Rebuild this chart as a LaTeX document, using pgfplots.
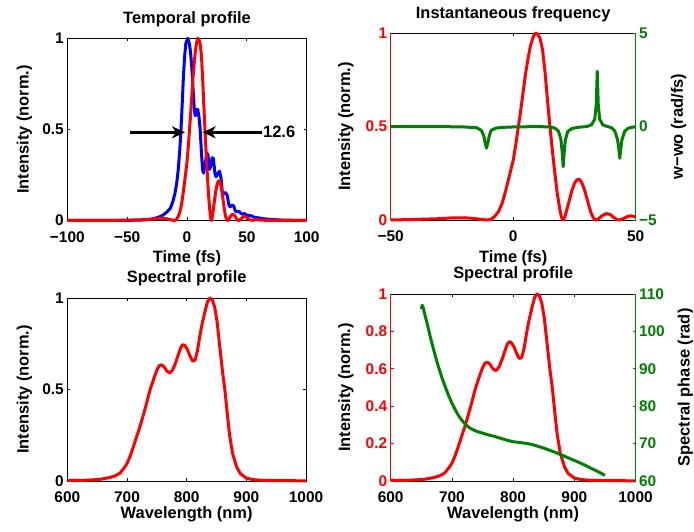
\documentclass[border=0pt]{standalone}
\usepackage{pgfplots}
\pgfplotsset{compat=1.18}
\usepackage{fontspec}
\setmainfont{Liberation Sans}
\usetikzlibrary{arrows.meta}
\definecolor{mgreen}{rgb}{0,0.5,0}
\newcommand\tfont{\fontsize{15.5}{18}\selectfont\bfseries}
\newcommand\lfont{\fontsize{16.5}{19}\selectfont\bfseries}
\pgfplotsset{
 base/.style={
  scale only axis, anchor=south west, clip=false,
  axis line style={line width=0.8bp},
  tick align=inside, major tick length=3bp,
  every tick/.style={line width=0.8bp, black},
  tick label style={font=\tfont},
  every axis title/.style={at={(axis description cs:0.5,1)}, anchor=base, yshift=15bp, font=\lfont},
  xticklabel style={anchor=base, yshift=-22bp, font=\tfont},
  yticklabel style={font=\tfont},
 },
 ylab/.style={every axis y label/.style={at={(axis description cs:#1,0.5)}, anchor=base, rotate=90, font=\lfont}},
 xlab/.style={every axis x label/.style={at={(axis description cs:0.5,0)}, anchor=base, yshift=-#1, font=\lfont}},
 curve/.style={line width=3bp, line join=round},
}
\begin{document}
\begin{tikzpicture}[x=1bp,y=1bp]
\useasboundingbox (0,0) rectangle (694,532);
% ---------------- Top left
\begin{axis}[base, at={(67.3bp,311.5bp)}, width=239.4bp, height=182.2bp,
 xmin=-100, xmax=100, ymin=0, ymax=1,
 xtick={-100,-50,0,50,100}, xticklabels={\textbf{−100},\textbf{−50},\textbf{0},\textbf{50},\textbf{100}},
 ytick={0,0.5,1}, yticklabels={\textbf{0},\textbf{0.5},\textbf{1}},
 title={Temporal profile}, xlabel={Time (fs)}, ylabel={Intensity (norm.)},
 ylab=-0.162, xlab=42.5bp]
\addplot[curve, blue] coordinates {(-100,0) (-50,0.001) (-40,0.002) (-32,0.005) (-27,0.012) (-23,0.02) (-20,0.03) (-17,0.045) (-14,0.066) (-12,0.1) (-10,0.15) (-8.5,0.21) (-7.3,0.28) (-6,0.39) (-5,0.50) (-4,0.64) (-3,0.79) (-2,0.9) (-1,0.97) (0.6,1.0) (2,0.97) (3,0.92) (4,0.84) (5,0.73) (6,0.62) (6.8,0.575) (7.5,0.58) (8.3,0.61) (9,0.61) (10,0.57) (11,0.5) (12,0.38) (13,0.28) (13.8,0.26) (15,0.3) (16.5,0.37) (17.5,0.36) (18.7,0.28) (19.5,0.29) (21,0.345) (22,0.34) (23.5,0.25) (24.3,0.24) (26,0.26) (27.2,0.27) (28.5,0.23) (29.5,0.155) (30.5,0.145) (32,0.153) (33.5,0.14) (35,0.085) (36,0.075) (37.5,0.085) (39,0.08) (40.5,0.05) (42,0.048) (43.5,0.05) (45,0.038) (46.5,0.035) (48,0.038) (50,0.028) (52,0.027) (54,0.025) (56,0.018) (58,0.016) (60,0.014) (63,0.01) (66,0.008) (70,0.006) (75,0.004) (80,0.002) (90,0.001) (100,0)};
\addplot[curve, red] coordinates {(-100,0) (-60,0.001) (-40,0.003) (-30,0.007) (-25,0.011) (-20,0.012) (-16,0.008) (-13,0.003) (-10.5,0.0) (-9,0.004) (-7.5,0.02) (-6,0.045) (-4.5,0.09) (-3,0.16) (-1.5,0.24) (0,0.32) (1,0.40) (2,0.49) (3,0.58) (4,0.68) (5,0.78) (6,0.86) (7,0.93) (8,0.975) (9,1.0) (10,0.995) (11,0.97) (12,0.91) (13,0.79) (13.6,0.70) (14,0.64) (15,0.50) (16,0.37) (17,0.25) (18,0.14) (19,0.06) (19.7,0.015) (20.3,0.0) (21,0.015) (22,0.06) (23,0.11) (24,0.16) (25,0.195) (26,0.215) (27,0.218) (28,0.20) (29,0.165) (30,0.12) (31,0.07) (32,0.03) (33,0.006) (33.8,0.0) (35,0.008) (36.5,0.025) (38,0.034) (39.5,0.03) (41,0.014) (42.3,0.002) (43.5,0.0) (45,0.008) (46.5,0.018) (48,0.022) (49,0.02) (50,0.016) (52,0.006) (54,0.001) (56,0.003) (58,0.006) (60,0.003) (65,0.001) (70,0) (100,0)};
\addplot[line width=3bp, black, -{Stealth[length=13bp, width=12bp, inset=4bp]}] coordinates {(-48,0.484) (-1.7,0.484)};
\addplot[line width=3bp, black, -{Stealth[length=13bp, width=12bp, inset=4bp]}] coordinates {(63,0.484) (13.1,0.484)};
\node[anchor=west, font=\lfont, inner sep=0pt] at (axis cs:63.5,0.484) {12.6};
\end{axis}
% ---------------- Top right
\begin{axis}[base, at={(390.7bp,312bp)}, width=245bp, height=186.8bp,
 axis x line*=box, axis y line*=left, y axis line style={red},
 xmin=-50, xmax=50, ymin=0, ymax=1,
 xtick={-50,0,50}, xticklabels={\textbf{−50},\textbf{0},\textbf{50}},
 ytick={0,0.5,1}, yticklabels={\textbf{0},\textbf{0.5},\textbf{1}}, yticklabel style={text=red},
 every y tick/.append style={red},
 title={Instantaneous frequency}, xlabel={Time (fs)}, ylabel={Intensity (norm.)},
 ylabel style={text=red},
 ylab=-0.166, xlab=42.7bp]
\addplot[curve, red] coordinates {(-50,0) (-40,0.003) (-30,0.007) (-25,0.011) (-20,0.012) (-16,0.008) (-13,0.003) (-10.5,0.0) (-9,0.004) (-7.5,0.02) (-6,0.045) (-4.5,0.09) (-3,0.16) (-1.5,0.24) (0,0.32) (1,0.40) (2,0.49) (3,0.58) (4,0.68) (5,0.78) (6,0.86) (7,0.93) (8,0.975) (9,1.0) (10,0.995) (11,0.97) (12,0.91) (13,0.79) (13.6,0.70) (14,0.64) (15,0.50) (16,0.37) (17,0.25) (18,0.14) (19,0.06) (19.7,0.015) (20.3,0.0) (21,0.015) (22,0.06) (23,0.11) (24,0.16) (25,0.195) (26,0.215) (27,0.218) (28,0.20) (29,0.165) (30,0.12) (31,0.07) (32,0.03) (33,0.006) (33.8,0.0) (35,0.008) (36.5,0.025) (38,0.034) (39.5,0.03) (41,0.014) (42.3,0.002) (43.5,0.0) (45,0.008) (46.5,0.018) (48,0.022) (49,0.02) (50,0.016)};
\end{axis}
\begin{axis}[base, at={(390.7bp,312bp)}, width=245bp, height=186.8bp,
 axis x line=none, axis y line*=right, y axis line style={mgreen},
 xmin=-50, xmax=50, ymin=-5, ymax=5,
 ytick={-5,0,5}, yticklabels={\textbf{−5},\textbf{0},\textbf{5}}, yticklabel style={text=mgreen},
 every y tick/.append style={mgreen},
 ylabel={w−wo (rad/fs)}, ylabel style={text=mgreen}, ylab=1.193]
\addplot[curve, mgreen] coordinates {(-50,0) (-30,0) (-20,-0.02) (-15,-0.06) (-13,-0.2) (-12,-0.5) (-11.5,-0.85) (-10.9,-1.15) (-10.3,-0.85) (-9.8,-0.5) (-9,-0.2) (-7,-0.08) (-4,-0.04) (0,-0.02) (10,0) (15,-0.02) (17,-0.08) (18.5,-0.25) (19.5,-0.7) (20,-1.4) (20.4,-2.15) (20.8,-1.4) (21.3,-0.7) (22.3,-0.25) (24,-0.1) (27,-0.03) (30,0.0) (32,0.1) (33.3,0.4) (33.9,1.2) (34.3,2.95) (34.7,1.2) (35.3,0.4) (36.5,0.1) (38,0.02) (40,-0.05) (41.5,-0.25) (42.6,-0.7) (43.1,-1.2) (43.5,-1.7) (43.9,-1.2) (44.4,-0.7) (45.5,-0.25) (47,-0.08) (50,0)};
\end{axis}
% ---------------- Bottom left
\begin{axis}[base, at={(67.3bp,51bp)}, width=238.7bp, height=183bp,
 xmin=600, xmax=1000, ymin=0, ymax=1,
 xtick={600,700,800,900,1000}, xticklabels={\textbf{600},\textbf{700},\textbf{800},\textbf{900},\textbf{1000}},
 ytick={0,0.5,1}, yticklabels={\textbf{0},\textbf{0.5},\textbf{1}},
 title={Spectral profile}, xlabel={Wavelength (nm)}, ylabel={Intensity (norm.)},
 ylab=-0.1625, xlab=38bp]
\addplot[curve, red] coordinates {(600,0.003) (630,0.004) (655,0.009) (670,0.018) (680,0.028) (688,0.042) (695,0.07) (700,0.095) (705,0.133) (710,0.18) (715,0.23) (722,0.30) (730,0.39) (738,0.49) (745,0.56) (750,0.605) (754,0.63) (758,0.635) (762,0.625) (767,0.60) (772,0.59) (777,0.61) (782,0.65) (787,0.70) (791,0.735) (794,0.745) (797,0.74) (801,0.72) (806,0.68) (810,0.655) (814,0.66) (818,0.71) (822,0.79) (826,0.86) (831,0.93) (835,0.98) (839,1.0) (843,0.99) (847,0.95) (851,0.87) (856,0.72) (860,0.6) (864,0.5) (868,0.37) (872,0.25) (877,0.15) (884,0.075) (890,0.04) (900,0.016) (910,0.008) (925,0.004) (950,0.002) (1000,0.001)};
\end{axis}
% ---------------- Bottom right
\begin{axis}[base, at={(390.7bp,51bp)}, width=244.8bp, height=187bp,
 axis x line*=box, axis y line*=left, y axis line style={red},
 xmin=600, xmax=1000, ymin=0, ymax=1,
 xtick={600,700,800,900,1000}, xticklabels={\textbf{600},\textbf{700},\textbf{800},\textbf{900},\textbf{1000}},
 ytick={0,0.2,0.4,0.6,0.8,1}, yticklabels={\textbf{0},\textbf{0.2},\textbf{0.4},\textbf{0.6},\textbf{0.8},\textbf{1}}, yticklabel style={text=red},
 every y tick/.append style={red},
 title={Spectral profile}, xlabel={Wavelength (nm)}, ylabel={Intensity (norm.)},
 ylabel style={text=red},
 ylab=-0.166, xlab=37.5bp]
\addplot[curve, red] coordinates {(600,0.003) (630,0.004) (655,0.009) (670,0.018) (680,0.028) (688,0.042) (695,0.07) (700,0.095) (705,0.133) (710,0.18) (715,0.23) (722,0.30) (730,0.39) (738,0.49) (745,0.56) (750,0.605) (754,0.63) (758,0.635) (762,0.625) (767,0.60) (772,0.59) (777,0.61) (782,0.65) (787,0.70) (791,0.735) (794,0.745) (797,0.74) (801,0.72) (806,0.68) (810,0.655) (814,0.66) (818,0.71) (822,0.79) (826,0.86) (831,0.93) (835,0.98) (839,1.0) (843,0.99) (847,0.95) (851,0.87) (856,0.72) (860,0.6) (864,0.5) (868,0.37) (872,0.25) (877,0.15) (884,0.075) (890,0.04) (900,0.016) (910,0.008) (925,0.004) (950,0.002) (1000,0.001)};
\end{axis}
\begin{axis}[base, at={(390.7bp,51bp)}, width=244.8bp, height=187bp,
 axis x line=none, axis y line*=right, y axis line style={mgreen},
 xmin=600, xmax=1000, ymin=60, ymax=110,
 ytick={60,70,80,90,100,110}, yticklabels={\textbf{60},\textbf{70},\textbf{80},\textbf{90},\textbf{100},\textbf{110}}, yticklabel style={text=mgreen},
 every y tick/.append style={mgreen},
 ylabel={Spectral phase (rad)}, ylabel style={text=mgreen}, ylab=1.2206]
\addplot[curve, mgreen] coordinates {(650,106.0) (651.5,107.0) (653,106.4) (655,105.0) (660,101.8) (665,98.3) (670,95.2) (675,92.2) (680,89.5) (685,87.0) (690,84.8) (695,82.7) (700,80.8) (705,79.2) (710,77.7) (715,76.5) (720,75.5) (725,74.7) (730,74.1) (740,73.3) (750,72.8) (760,72.3) (770,71.9) (780,71.4) (790,70.9) (800,70.5) (810,70.3) (820,70.1) (830,69.8) (840,69.3) (850,68.8) (860,68.2) (870,67.6) (880,66.9) (890,66.2) (900,65.5) (910,64.8) (920,64.0) (930,63.2) (940,62.4) (950,61.5)};
\end{axis}
\end{tikzpicture}
\end{document}
